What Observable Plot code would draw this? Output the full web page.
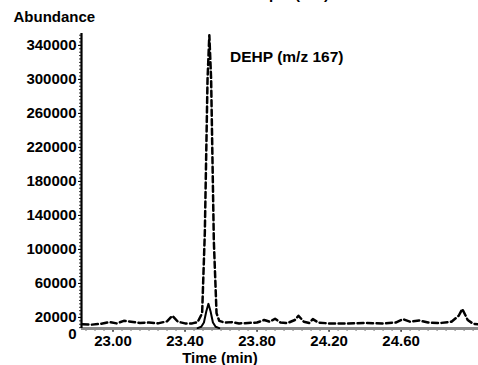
<!DOCTYPE html>
<html>
<head>
<meta charset="utf-8">
<script src="https://cdn.jsdelivr.net/npm/d3@7"></script>
<script src="https://cdn.jsdelivr.net/npm/@observablehq/plot@0.6"></script>
<style>
  body { margin: 0; background: white; }
  #chart svg { font-family: "Liberation Sans", Arial, Helvetica, sans-serif; font-weight: bold; }
</style>
</head>
<body>
<div id="chart"></div>
<script>
// Dashed trace (DEHP, m/z 167): time (min) and abundance
const dashTime = [22.83, 22.88, 22.93, 22.98, 23.02, 23.06, 23.10, 23.15, 23.20, 23.25, 23.30, 23.33, 23.36, 23.40, 23.44, 23.47, 23.495, 23.51, 23.525, 23.535, 23.545, 23.56, 23.575, 23.59, 23.62, 23.66, 23.70, 23.75, 23.80, 23.84, 23.87, 23.90, 23.93, 23.97, 24.01, 24.03, 24.06, 24.09, 24.11, 24.14, 24.20, 24.30, 24.40, 24.50, 24.57, 24.61, 24.65, 24.70, 24.75, 24.82, 24.88, 24.92, 24.94, 24.97, 25.00, 25.03];
const dashAbund = [12000, 11500, 12500, 14500, 13000, 16000, 15000, 13500, 14000, 13000, 15500, 22000, 15000, 13000, 13000, 14500, 25000, 120000, 300000, 352000, 300000, 110000, 25000, 16000, 14000, 14500, 13000, 13500, 14000, 17000, 15000, 18500, 14000, 13500, 17000, 22000, 15000, 13500, 18000, 14000, 13000, 13000, 13500, 13000, 14000, 18000, 15000, 16500, 14000, 13500, 15000, 22000, 30000, 17000, 12500, 12000];
// Solid trace (small peak)
const solidTime = [23.47, 23.49, 23.505, 23.518, 23.53, 23.542, 23.555, 23.57, 23.59];
const solidAbund = [7500, 9000, 14000, 27000, 36000, 27000, 14000, 9000, 7500];
// Axis ticks
const yTicks = [20000, 60000, 100000, 140000, 180000, 220000, 260000, 300000, 340000];
const xTicks = [23.00, 23.40, 23.80, 24.20, 24.60];
const xDomain = [22.825, 25.03];
const yDomain = [7000, 354000];

const dashData = dashTime.map((t, i) => ({t, v: dashAbund[i]}));
const solidData = solidTime.map((t, i) => ({t, v: solidAbund[i]}));
const yMinor = d3.range(8000, 354001, 4000);
const xMinor = d3.range(22.85, 25.03, 0.05);

const chart = Plot.plot({
  width: 478,
  height: 365,
  marginLeft: 81,
  marginRight: 0,
  marginTop: 33,
  marginBottom: 37,
  style: {fontSize: "15px", fontWeight: "bold", color: "black", overflow: "hidden"},
  x: {domain: xDomain},
  y: {domain: yDomain},
  marks: [
    Plot.axisY({ticks: yMinor, tickSize: 2, tickFormat: () => "", strokeWidth: 0.8, label: null}),
    Plot.axisY({ticks: yTicks, tickSize: 3, tickPadding: 2, tickFormat: d => String(d), label: null, fontSize: 15}),
    Plot.axisX({ticks: xMinor, tickSize: 3, tickFormat: () => "", stroke: "#777", label: null}),
    Plot.axisX({ticks: xTicks, tickSize: 4, tickPadding: 3, tickFormat: d => d.toFixed(2), label: null, fontSize: 15}),
    Plot.ruleY([yDomain[0]], {stroke: "#8a8a8a", strokeWidth: 3}),
    Plot.lineY(solidData, {x: "t", y: "v", stroke: "black", strokeWidth: 2}),
    Plot.lineY(dashData, {x: "t", y: "v", stroke: "black", strokeWidth: 2.5, strokeDasharray: "6,3.5"}),
    Plot.ruleX([xDomain[0]], {stroke: "black", strokeWidth: 2.2}),
    Plot.text(["0"], {x: () => xDomain[0], y: () => 0, textAnchor: "end", dx: -5, fontSize: 15}),
    Plot.text(["DEHP (m/z 167)"], {x: () => 23.65, y: () => 326000, textAnchor: "start", fontSize: 15.5}),
    Plot.text(["Abundance"], {frameAnchor: "top-left", lineAnchor: "top", dx: -68, dy: -22, textAnchor: "start", fontSize: 15}),
    Plot.text(["Time (min)"], {x: () => 23.594, frameAnchor: "bottom", lineAnchor: "bottom", dy: 34, fontSize: 15}),
    Plot.text(["Sample (TIC)"], {x: () => 24.2, frameAnchor: "top", lineAnchor: "top", dy: -45, textAnchor: "end", fontSize: 15})
  ]
});
document.getElementById("chart").appendChild(chart);
</script>
</body>
</html>
